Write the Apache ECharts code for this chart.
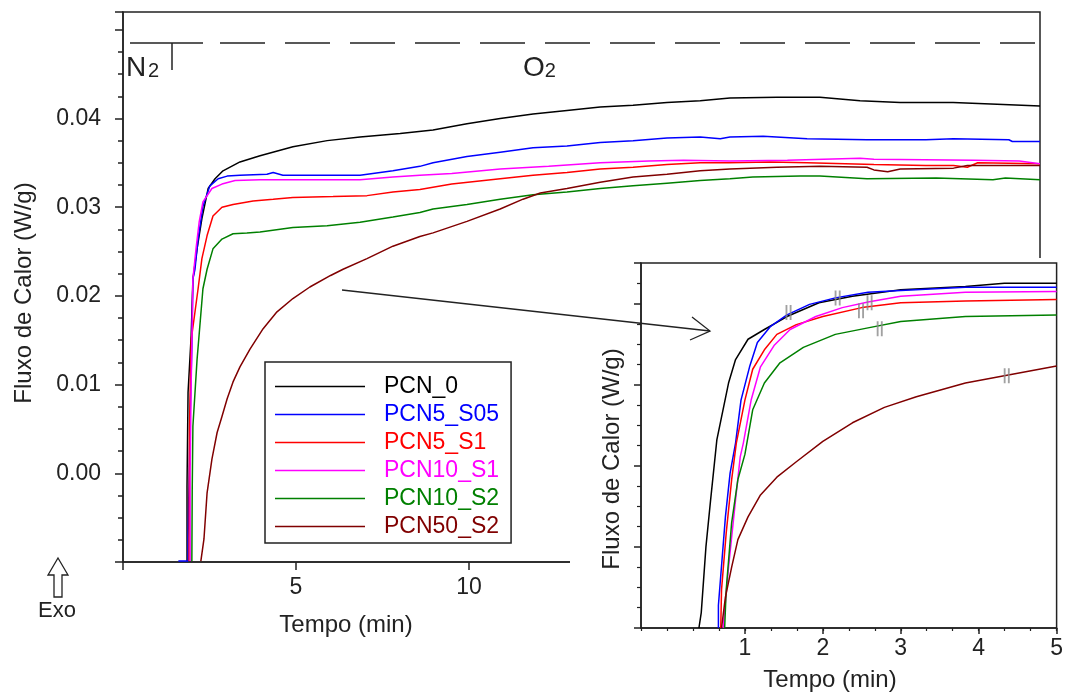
<!DOCTYPE html>
<html>
<head>
<meta charset="utf-8">
<script src="https://cdn.jsdelivr.net/npm/echarts@6/dist/echarts.min.js"></script>
<style>
html,body{margin:0;padding:0;background:#fff;}
#chart{width:1066px;height:692px;}
</style>
</head>
<body>
<div id="chart"></div>
<script>
// ---------- DATA ----------
const seriesNames = ['PCN_0', 'PCN5_S05', 'PCN5_S1', 'PCN10_S1', 'PCN10_S2', 'PCN50_S2'];
const seriesColors = ['#000000', '#0000FF', '#FF0000', '#FF00FF', '#008000', '#800000'];

// main chart: [time (min), heat flow (W/g)]
const mainPCN0 = [[1.85,-0.0099],[1.85,-0.0074],[1.85,-0.0015],[1.88,0.0091],[1.97,0.0155],[2.02,0.0219],[2.14,0.0253],[2.28,0.0287],[2.46,0.0321],[2.66,0.0332],[2.89,0.0341],[3.38,0.0351],[3.96,0.0358],[4.91,0.0368],[5.90,0.0375],[6.85,0.0379],[8.01,0.0383],[8.96,0.0387],[9.94,0.0394],[10.9,0.0400],[11.85,0.0405],[12.83,0.0409],[13.79,0.0413],[14.74,0.0415],[15.72,0.0418],[16.68,0.0420],[17.54,0.0423],[18.9,0.0424],[20.14,0.0424],[21.3,0.0420],[22.46,0.0418],[23.99,0.0418],[25.26,0.0416],[26.5,0.0414]];
const mainPCN5S05 = [[1.6,-0.0099],[1.88,-0.0099],[1.88,-0.0074],[1.91,-0.0007],[1.94,0.0064],[1.99,0.0143],[2.02,0.0219],[2.08,0.0230],[2.17,0.0264],[2.31,0.0301],[2.51,0.0324],[2.75,0.0332],[3.01,0.0335],[3.38,0.0336],[4.16,0.0337],[4.34,0.0339],[4.62,0.0336],[6.85,0.0336],[7.8,0.0341],[8.58,0.0346],[8.96,0.0350],[9.94,0.0357],[10.9,0.0362],[11.85,0.0367],[12.83,0.0369],[13.79,0.0373],[14.74,0.0375],[15.72,0.0378],[16.68,0.0379],[17.26,0.0377],[17.54,0.0379],[18.5,0.0380],[19.77,0.0377],[21.5,0.0376],[23.2,0.0376],[24.0,0.0377],[25.6,0.0376],[25.7,0.0374],[26.5,0.0374]];
const mainPCN5S1 = [[1.91,-0.0099],[1.92,0.005],[1.97,0.015],[2.17,0.0208],[2.28,0.0242],[2.43,0.0268],[2.6,0.0290],[2.86,0.0300],[3.18,0.0303],[3.76,0.0307],[4.34,0.0309],[4.91,0.0311],[6.07,0.0312],[7.05,0.0313],[7.8,0.0317],[8.58,0.0320],[9.5,0.0326],[10.9,0.0332],[11.85,0.0336],[12.83,0.0339],[13.79,0.0343],[14.74,0.0345],[15.72,0.0348],[16.68,0.0350],[17.5,0.0350],[18.7,0.0351],[19.77,0.0350],[21.7,0.0348],[23.2,0.0347],[24.0,0.0347],[24.4,0.0345],[24.7,0.0350],[26.5,0.0349]];
const mainPCN10S1 = [[1.94,-0.0099],[1.94,0.0],[1.97,0.0100],[2.02,0.0219],[2.11,0.0253],[2.2,0.0283],[2.31,0.0306],[2.57,0.0321],[2.86,0.0326],[3.24,0.0330],[3.96,0.0331],[4.91,0.0331],[6.85,0.0331],[7.8,0.0334],[8.58,0.0336],[9.5,0.0338],[10.9,0.0343],[12.3,0.0346],[13.79,0.0350],[15.2,0.0352],[16.2,0.0353],[17.54,0.0352],[19.2,0.0353],[21.3,0.0355],[21.7,0.0354],[24.6,0.0353],[25.9,0.0352],[26.5,0.0349]];
const mainPCN10S2 = [[1.99,-0.0099],[2.0,-0.002],[2.02,0.0053],[2.14,0.0128],[2.31,0.0208],[2.43,0.0230],[2.6,0.0253],[2.86,0.0264],[3.18,0.0270],[3.58,0.0271],[3.96,0.0272],[4.91,0.0277],[5.9,0.0279],[6.85,0.0283],[7.8,0.0289],[8.58,0.0294],[8.96,0.0298],[9.94,0.0303],[10.9,0.0309],[11.85,0.0314],[12.83,0.0317],[13.79,0.0321],[14.74,0.0324],[15.72,0.0327],[16.68,0.0330],[17.54,0.0332],[18.2,0.0334],[19.57,0.0335],[20.14,0.0335],[21.5,0.0332],[23.5,0.0333],[25.14,0.0331],[25.5,0.0333],[26.5,0.0331]];
const mainPCN50S2 = [[2.25,-0.0099],[2.34,-0.0074],[2.43,-0.0022],[2.57,0.0016],[2.72,0.0046],[2.86,0.0064],[3.01,0.0084],[3.18,0.0103],[3.38,0.0120],[3.67,0.0140],[4.05,0.0163],[4.45,0.0182],[4.91,0.0197],[5.4,0.0210],[6.0,0.0223],[6.36,0.0230],[7.05,0.0242],[7.8,0.0256],[8.58,0.0267],[8.96,0.0271],[9.94,0.0284],[10.9,0.0298],[11.56,0.0309],[12.06,0.0316],[12.83,0.0321],[13.79,0.0328],[14.74,0.0334],[15.72,0.0337],[16.68,0.0341],[17.54,0.0343],[18.9,0.0345],[20.14,0.0346],[21.5,0.0345],[21.7,0.0342],[22.1,0.0340],[22.46,0.0343],[24.0,0.0344],[24.4,0.0347],[26.5,0.0347]];

// inset chart: [time (min), heat flow]
const insetPCN0 = [[0.41,-0.0100],[0.44,-0.0081],[0.50,0.0000],[0.56,0.0058],[0.64,0.0132],[0.70,0.0160],[0.79,0.0202],[0.88,0.0231],[1.04,0.0256],[1.25,0.0268],[1.54,0.0284],[1.95,0.0301],[2.38,0.0309],[3.0,0.0317],[3.83,0.0321],[4.33,0.0325],[5.0,0.0325]];
const insetPCN5S05 = [[0.66,-0.0100],[0.66,-0.0072],[0.75,0.0037],[0.81,0.0091],[0.88,0.0128],[0.95,0.0181],[1.06,0.0222],[1.16,0.0252],[1.33,0.0272],[1.54,0.0286],[1.83,0.0299],[2.16,0.0307],[2.58,0.0314],[3.0,0.0316],[3.83,0.0320],[5.0,0.0320]];
const insetPCN5S1 = [[0.69,-0.0100],[0.70,-0.0053],[0.76,0.0017],[0.83,0.0083],[0.89,0.0128],[1.0,0.0181],[1.1,0.0219],[1.25,0.0243],[1.41,0.0262],[1.66,0.0274],[2.0,0.0284],[2.5,0.0295],[3.0,0.0301],[3.83,0.0303],[5.0,0.0305]];
const insetPCN10S1 = [[0.72,-0.0100],[0.79,-0.0025],[0.88,0.0058],[0.94,0.0111],[0.98,0.0128],[1.08,0.0181],[1.2,0.0222],[1.38,0.0249],[1.58,0.0268],[1.91,0.0284],[2.25,0.0295],[2.58,0.0302],[3.0,0.0309],[3.83,0.0314],[5.0,0.0315]];
const insetPCN10S2 = [[0.74,-0.0100],[0.76,-0.0053],[0.83,0.0030],[0.91,0.0083],[1.0,0.0114],[1.1,0.0169],[1.25,0.0202],[1.45,0.0227],[1.75,0.0246],[2.16,0.0262],[2.58,0.0270],[3.0,0.0278],[3.83,0.0284],[5.0,0.0286]];
const insetPCN50S2 = [[0.70,-0.0100],[0.75,-0.0062],[0.83,-0.0025],[0.91,0.0009],[1.04,0.0037],[1.2,0.0064],[1.41,0.0086],[1.66,0.0105],[2.0,0.0130],[2.38,0.0153],[2.79,0.0172],[3.2,0.0185],[3.83,0.0202],[4.38,0.0212],[5.0,0.0223]];
const insetMarks = [[1.56,0.0289],[2.19,0.0307],[2.6,0.0301],[2.49,0.0291],[2.73,0.0269],[4.36,0.0211]];

// tick labels
const mainXLabels = [5, 10];
const mainYLabels = [0, 0.01, 0.02, 0.03, 0.04];
const insetXLabels = [1, 2, 3, 4, 5];
const insetXMinor = [];
for (let k = -1; k <= 15; k++) insetXMinor.push(k / 3);

const mainData = [mainPCN0, mainPCN5S05, mainPCN5S1, mainPCN10S1, mainPCN10S2, mainPCN50S2];
const insetData = [insetPCN0, insetPCN5S05, insetPCN5S1, insetPCN10S1, insetPCN10S2, insetPCN50S2];

// ---------- CHART ----------
const FONT = '"Liberation Sans", Arial, sans-serif';
const AX = '#222';
const chart = echarts.init(document.getElementById('chart'), null, {renderer: 'canvas'});

const series = [];
mainData.forEach((d, i) => {
  series.push({
    name: seriesNames[i], type: 'line', data: d, xAxisIndex: 0, yAxisIndex: 0,
    showSymbol: false, symbol: 'none', lineStyle: {width: 1.5, color: seriesColors[i]},
    itemStyle: {color: seriesColors[i]}, animation: false
  });
});
insetData.forEach((d, i) => {
  series.push({
    name: seriesNames[i] + ' ', type: 'line', data: d, xAxisIndex: 1, yAxisIndex: 1,
    showSymbol: false, symbol: 'none', lineStyle: {width: 1.5, color: seriesColors[i]},
    itemStyle: {color: seriesColors[i]}, animation: false, z: 100
  });
});
series.push({
  type: 'scatter', data: insetMarks, xAxisIndex: 1, yAxisIndex: 1,
  symbol: 'path://M0,0h1.6v12h-1.6zM3.6,0h1.6v12h-1.6z', symbolSize: [6, 15],
  itemStyle: {color: '#8a8a8a'}, z: 101, animation: false, silent: true
});

function near(v, arr) { return arr.some(a => Math.abs(a - v) < 1e-6); }

const option = {
  animation: false,
  backgroundColor: '#fff',
  grid: [
    {left: 123, top: 12, right: 26, bottom: 130, show: true, borderColor: AX, borderWidth: 1.5},
    {left: 641, top: 263, right: 3, bottom: 64, show: true, borderColor: AX, borderWidth: 1.5, z: 100, backgroundColor: '#fff'}
  ],
  legend: {
    left: 265, top: 362, orient: 'vertical',
    padding: [13, 12, 5, 10],
    icon: 'rect',
    itemWidth: 90, itemHeight: 1.6, itemGap: 5,
    borderColor: AX, borderWidth: 1.5,
    selectedMode: false,
    textStyle: {fontFamily: FONT, fontSize: 23, padding: [0, 0, 0, 14], lineHeight: 23},
    data: seriesNames.map((n, i) => ({name: n, textStyle: {color: seriesColors[i]}})),
    z: 20
  },
  xAxis: [
    {
      type: 'value', gridIndex: 0, min: 0, max: 26.5, interval: 5,
      axisLine: {onZero: false, lineStyle: {color: AX, width: 1.5}},
      axisTick: {length: 8, lineStyle: {color: AX, width: 1.5}},
      splitLine: {show: false},
      axisLabel: {fontFamily: FONT, fontSize: 23, color: AX, margin: 14,
        formatter: v => near(v, mainXLabels) ? String(v) : ''}
    },
    {
      type: 'value', gridIndex: 1, min: -1 / 3, max: 5, position: 'bottom', z: 100,
      axisLine: {onZero: false, lineStyle: {color: AX, width: 1.5}},
      axisTick: {length: 6, customValues: insetXLabels, lineStyle: {color: AX, width: 1.5}},
      splitLine: {show: false},
      axisLabel: {fontFamily: FONT, fontSize: 23, color: AX, margin: 9, customValues: insetXLabels,
        formatter: v => String(Math.round(v))}
    },
    {
      type: 'value', gridIndex: 1, min: -1 / 3, max: 5, position: 'bottom', z: 100,
      axisLine: {show: false, onZero: false},
      axisTick: {length: 3, customValues: insetXMinor, lineStyle: {color: AX, width: 1.2}},
      splitLine: {show: false},
      axisLabel: {show: false}
    }
  ],
  yAxis: [
    {
      type: 'value', gridIndex: 0, min: -0.01, max: 0.052, interval: 0.01,
      axisLine: {show: true, onZero: false, lineStyle: {color: AX, width: 1.5}},
      axisTick: {show: true, length: 8, lineStyle: {color: AX, width: 1.5}},
      minorTick: {show: true, splitNumber: 4, length: 5, lineStyle: {color: AX, width: 1.5}},
      splitLine: {show: false},
      axisLabel: {fontFamily: FONT, fontSize: 23, color: AX, margin: 22,
        formatter: v => near(v, mainYLabels) ? v.toFixed(2) : ''}
    },
    {
      type: 'value', gridIndex: 1, min: -0.01, max: 0.035, interval: 0.01, z: 100,
      axisLine: {show: true, onZero: false, lineStyle: {color: AX, width: 1.5}},
      axisTick: {show: true, length: 7, lineStyle: {color: AX, width: 1.5}},
      minorTick: {show: true, splitNumber: 4, length: 4, lineStyle: {color: AX, width: 1.2}},
      splitLine: {show: false},
      axisLabel: {show: false}
    }
  ],
  graphic: {
    elements: [
      {type: 'rect', shape: {x: 570, y: 258, width: 496, height: 434}, style: {fill: '#fff'}, z: 90, silent: true},
      {type: 'line', shape: {x1: 130, y1: 43, x2: 203, y2: 43}, style: {stroke: AX, lineWidth: 1.5}, z: 10},
      {type: 'line', shape: {x1: 172, y1: 43, x2: 172, y2: 70}, style: {stroke: AX, lineWidth: 1.5}, z: 10},
      {type: 'line', shape: {x1: 220, y1: 43, x2: 1035, y2: 43}, style: {stroke: AX, lineWidth: 1.5, lineDash: [45, 20]}, z: 10},
      {type: 'text', x: 126, y: 54, style: {text: '{a|N}{s| }{b|2}', rich: {a: {fontFamily: FONT, fontSize: 28, fill: '#222'}, s: {fontSize: 6}, b: {fontFamily: FONT, fontSize: 20, fill: '#222', padding: [6, 0, 0, 0]}}}, z: 10},
      {type: 'text', x: 523, y: 54, style: {text: '{a|O}{b|2}', rich: {a: {fontFamily: FONT, fontSize: 28, fill: '#222'}, b: {fontFamily: FONT, fontSize: 20, fill: '#222', padding: [6, 0, 0, 0]}}}, z: 10},
      {type: 'text', x: 24, y: 293, rotation: Math.PI / 2, style: {text: 'Fluxo de Calor (W/g)', fontFamily: FONT, fontSize: 24, fill: '#222', align: 'center', verticalAlign: 'middle'}, z: 10},
      {type: 'text', x: 346, y: 625, style: {text: 'Tempo (min)', fontFamily: FONT, fontSize: 24, fill: '#222', align: 'center', verticalAlign: 'middle'}, z: 10},
      {type: 'text', x: 612, y: 459, rotation: Math.PI / 2, style: {text: 'Fluxo de Calor (W/g)', fontFamily: FONT, fontSize: 24, fill: '#222', align: 'center', verticalAlign: 'middle'}, z: 110},
      {type: 'text', x: 830, y: 680, style: {text: 'Tempo (min)', fontFamily: FONT, fontSize: 24, fill: '#222', align: 'center', verticalAlign: 'middle'}, z: 110},
      {type: 'polygon', shape: {points: [[58, 558], [68, 575], [62, 575], [62, 597], [54, 597], [54, 575], [48, 575]]}, style: {fill: '#fff', stroke: '#222', lineWidth: 1.3}, z: 10},
      {type: 'text', x: 57, y: 611, style: {text: 'Exo', fontFamily: FONT, fontSize: 22, fill: '#222', align: 'center', verticalAlign: 'middle'}, z: 10},
      {type: 'line', shape: {x1: 342, y1: 290, x2: 710, y2: 331}, style: {stroke: '#222', lineWidth: 1.3}, z: 120},
      {type: 'polyline', shape: {points: [[692, 317], [710, 331], [690, 340]]}, style: {stroke: '#222', lineWidth: 1.3, fill: null}, z: 120}
    ]
  },
  series: series
};
chart.setOption(option);
</script>
</body>
</html>
